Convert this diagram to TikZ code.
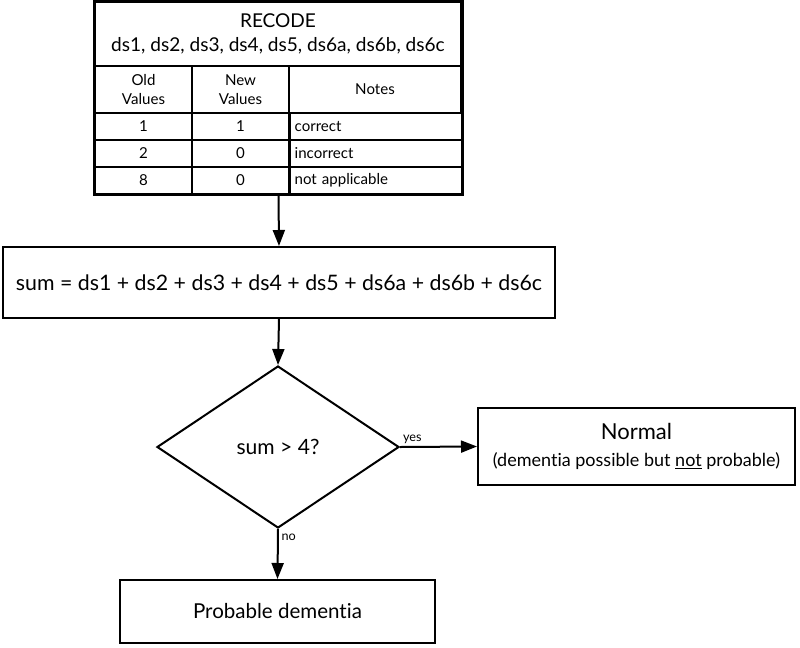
\documentclass[tikz,border=0pt]{standalone}
\usepackage{fontspec}
\setmainfont[Ligatures=NoCommon]{Lato}
\usetikzlibrary{positioning, arrows.meta, shapes.geometric, fit}

\begin{document}
\begin{tikzpicture}[
    x=0.75pt, y=-0.75pt,
    cell/.style={rectangle, draw, line width=1.4pt, inner sep=0pt, align=center, font=\fontsize{11.3}{14}\selectfont},
    box/.style={rectangle, draw, line width=1.5pt, inner sep=0pt, align=center, font=\fontsize{16}{18}\selectfont},
    decision/.style={diamond, draw, line width=1.5pt, inner sep=0pt, minimum width=181.5pt, minimum height=121.5pt, font=\fontsize{15.8}{18}\selectfont},
    arrow/.style={-{Triangle[length=12pt, width=9pt]}, line width=1.5pt},
    lbl/.style={font=\fontsize{9.5}{11}\selectfont, inner sep=2pt}
]
\useasboundingbox (0,0) rectangle (800,647);

% Recode table
\node[cell, minimum width=274.5pt, minimum height=48pt, font=\fontsize{14.3}{18.5}\selectfont] (recode) at (278,34) {RECODE\\ds1, ds2, ds3, ds4, ds5, ds6a, ds6b, ds6c};
\node[cell, minimum width=72.75pt, minimum height=35.25pt] (oldhd) at (143.5,89.5) {Old\\Values};
\node[cell, minimum width=72.75pt, minimum height=35.25pt] (newhd) at (240.5,89.5) {New\\Values};
\node[cell, minimum width=129pt, minimum height=35.25pt] (noteshd) at (375,89.5) {Notes};
\foreach \y/\o/\n/\t [count=\i] in {126.5/1/1/correct, 153.5/2/0/incorrect, 180.5/8/0/not applicable} {
    \node[cell, minimum width=72.75pt, minimum height=20.25pt] (old\i) at (143.5,\y) {\o};
    \node[cell, minimum width=72.75pt, minimum height=20.25pt] (new\i) at (240.5,\y) {\n};
    \node[cell, minimum width=129pt, minimum height=20.25pt, text width=122pt, align=left] (notes\i) at (376,\y) {\t};
}
\node[draw, line width=1.5pt, inner sep=0pt, fit=(recode) (old3) (notes3)] (table) {};

% Flow
\node[box, minimum width=414pt, minimum height=53.25pt] (sum) at (279,282.5) {sum = ds1 + ds2 + ds3 + ds4 + ds5 + ds6a + ds6b + ds6c};
\node[decision] (check) at (278,447) {sum > 4?};
\node[box, minimum width=237.75pt, minimum height=57.75pt, font=\fontsize{16.5}{20}\selectfont] (normal) at (636.5,446.5) {Normal\\{\fontsize{13.5}{15}\selectfont (dementia possible but \underline{not} probable)}};
\node[box, minimum width=236.25pt, minimum height=47.25pt, font=\fontsize{15.4}{18}\selectfont] (probable) at (277.5,611.5) {Probable dementia};

% Arrows
\draw[arrow] (table.south) -- (sum.north);
\draw[arrow] (sum.south) -- (check.north);
\draw[arrow] (check.east) -- node[lbl, pos=0.16, above] {yes} (normal.west);
\draw[arrow] (check.south) -- node[lbl, pos=0.17, right] {no} (probable.north);

\end{tikzpicture}
\end{document}
